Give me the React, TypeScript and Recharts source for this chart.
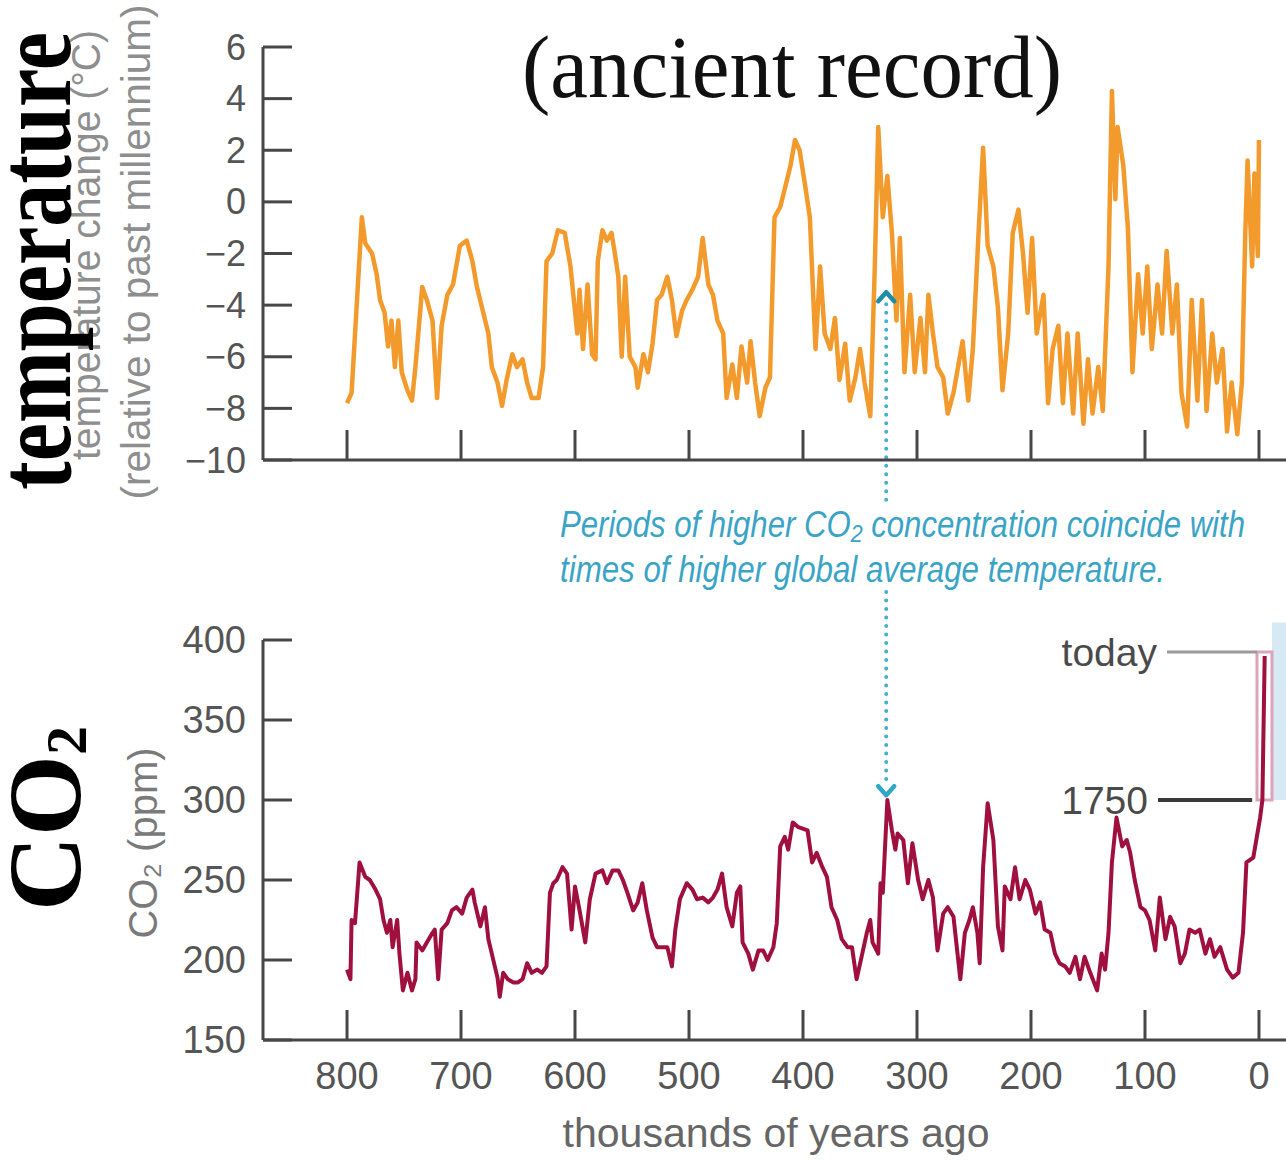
import React from 'react';
import { LineChart, Line, XAxis, YAxis, ReferenceLine, ReferenceArea } from 'recharts';

// ---------- data ----------
const AGE_TICKS = [800, 700, 600, 500, 400, 300, 200, 100, 0];
const TEMP_TICKS = [6, 4, 2, 0, -2, -4, -6, -8, -10];
const CO2_TICKS = [400, 350, 300, 250, 200, 150];

// thousands of years ago
const TEMP_AGES = [
  800, 796, 787, 784, 778, 774, 771, 767, 764, 761,
  758, 755, 752, 747, 743, 740, 734, 730, 725, 721,
  717, 712, 707, 701, 695, 690, 686, 681, 676, 673,
  668, 664, 660, 655, 651, 646, 642, 638, 632, 628,
  625, 620, 615, 609, 604, 598, 596, 593, 589, 585,
  582, 580, 576, 572, 568, 565, 562, 559, 556, 552,
  547, 545, 540, 536, 532, 528, 524, 519, 515, 511,
  506, 502, 497, 492, 488, 483, 479, 475, 470, 467,
  462, 458, 454, 449, 446, 442, 438, 433, 429, 425,
  420, 416, 411, 407, 403, 398, 394, 389, 385, 381,
  376, 372, 368, 363, 359, 354, 350, 346, 341, 337,
  334, 330, 326, 322, 318, 315, 311, 306, 302, 297,
  293, 290, 286, 282, 277, 273, 268, 264, 260, 255,
  251, 246, 242, 238, 233, 229, 225, 220, 216, 211,
  207, 203, 199, 195, 189, 185, 181, 176, 172, 168,
  163, 159, 154, 150, 146, 141, 137, 132, 129, 126,
  124, 119, 115, 111, 106, 102, 98, 94, 89, 85,
  81, 76, 72, 68, 63, 59, 54, 50, 46, 41,
  37, 32, 28, 24, 19, 15, 12, 10, 6, 4,
  1, 0,
];
// temperature change (°C)
const TEMP_VALUES = [
  -7.8, -7.4, -0.6, -1.6, -2.0, -2.8, -3.8, -4.3, -5.6, -4.6,
  -6.4, -4.6, -6.6, -7.3, -7.7, -6.4, -3.3, -3.8, -4.6, -7.6,
  -4.8, -3.6, -3.2, -1.7, -1.5, -2.3, -3.3, -4.2, -5.1, -6.4,
  -7.0, -7.9, -6.9, -5.9, -6.4, -6.1, -7.0, -7.6, -7.6, -6.4,
  -2.3, -2.0, -1.1, -1.2, -2.5, -5.1, -3.4, -5.7, -3.2, -5.9,
  -6.1, -2.3, -1.1, -1.5, -1.2, -2.0, -2.9, -6.0, -2.9, -6.0,
  -6.4, -7.2, -5.9, -6.6, -5.5, -3.8, -3.6, -2.9, -3.8, -5.2,
  -4.2, -3.8, -3.4, -2.9, -1.4, -3.2, -3.6, -4.6, -5.1, -7.6,
  -6.3, -7.6, -5.6, -7.0, -5.4, -7.0, -8.3, -7.2, -6.8, -0.6,
  -0.2, 0.5, 1.4, 2.4, 2.0, 0.6, -0.6, -5.7, -2.5, -5.1,
  -5.7, -4.5, -6.9, -5.5, -7.7, -6.8, -5.7, -7.0, -8.3, -2.5,
  2.9, -0.6, 1.0, -1.2, -4.6, -1.4, -6.6, -3.6, -6.6, -4.5,
  -6.6, -3.6, -5.1, -6.4, -6.8, -8.2, -7.4, -6.4, -5.4, -7.7,
  -5.7, -1.2, 2.1, -1.7, -2.5, -4.1, -7.3, -5.1, -1.2, -0.3,
  -2.0, -4.3, -1.4, -5.1, -3.6, -7.8, -5.7, -4.8, -7.8, -5.1,
  -8.2, -5.1, -8.6, -6.1, -8.2, -6.4, -8.1, -2.5, 4.3, 0.1,
  2.9, 1.4, -1.0, -6.6, -2.8, -5.1, -2.5, -5.7, -3.2, -5.1,
  -1.9, -5.1, -3.2, -7.4, -8.7, -3.8, -7.7, -3.8, -8.1, -5.1,
  -7.0, -5.7, -8.9, -7.0, -9.0, -7.0, -1.2, 1.6, -2.5, 1.1,
  -2.1, 2.4,
];

// thousands of years ago
const CO2_AGES = [
  800, 797, 796, 793, 789, 784, 780, 775, 771, 768,
  765, 762, 760, 756, 754, 751, 747, 743, 740, 739,
  734, 730, 725, 723, 720, 717, 712, 708, 704, 699,
  695, 690, 688, 683, 679, 676, 673, 668, 666, 663,
  659, 654, 650, 646, 642, 638, 633, 629, 625, 622,
  619, 616, 611, 607, 603, 600, 596, 591, 587, 582,
  576, 572, 567, 562, 558, 554, 549, 545, 541, 537,
  532, 528, 524, 519, 515, 512, 508, 502, 497, 493,
  488, 483, 479, 475, 471, 467, 462, 458, 455, 453,
  448, 444, 439, 435, 431, 426, 423, 420, 416, 413,
  409, 404, 396, 392, 388, 383, 379, 375, 370, 366,
  361, 357, 353, 348, 344, 341, 339, 334, 332, 330,
  326, 322, 319, 317, 312, 308, 304, 299, 295, 290,
  286, 282, 277, 273, 268, 262, 258, 254, 251, 247,
  245, 242, 238, 233, 229, 225, 223, 218, 214, 210,
  205, 201, 196, 192, 188, 183, 179, 175, 170, 166,
  161, 157, 153, 148, 142, 138, 135, 132, 129, 125,
  120, 116, 113, 109, 104, 100, 96, 91, 87, 82,
  78, 74, 69, 65, 61, 56, 52, 47, 43, 39,
  34, 28, 23, 18, 14, 11, 5, -1, -3, -5,
];
// CO2 (ppm)
const CO2_VALUES = [
  194, 188, 225, 223, 261, 252, 250, 244, 238, 225,
  217, 225, 208, 225, 204, 181, 192, 181, 188, 211,
  206, 211, 217, 219, 188, 219, 223, 231, 233, 229,
  239, 244, 236, 221, 233, 213, 204, 189, 177, 192,
  188, 186, 186, 188, 198, 192, 194, 192, 196, 242,
  248, 250, 258, 254, 219, 246, 231, 211, 238, 254,
  256, 248, 256, 256, 250, 242, 231, 236, 248, 231,
  214, 208, 208, 208, 196, 219, 238, 248, 244, 238,
  239, 236, 239, 244, 254, 233, 221, 242, 246, 211,
  204, 194, 206, 206, 200, 208, 223, 271, 277, 269,
  286, 283, 281, 261, 267, 258, 252, 233, 225, 213,
  208, 208, 188, 204, 217, 225, 211, 204, 248, 242,
  300, 281, 269, 279, 275, 248, 273, 250, 238, 250,
  239, 206, 229, 233, 227, 188, 217, 225, 233, 217,
  198, 258, 298, 275, 221, 206, 246, 238, 258, 238,
  250, 244, 229, 236, 219, 217, 204, 198, 196, 192,
  202, 188, 202, 192, 181, 204, 194, 217, 261, 289,
  271, 275, 267, 250, 233, 231, 225, 206, 239, 213,
  227, 221, 198, 204, 219, 217, 219, 204, 213, 202,
  208, 194, 189, 192, 217, 261, 264, 289, 300, 390,
];

// annotation anchors (data units)
const ARROW_AGE = 327;
const ARROW_TEMP = [-3.5, -11.6];
const ARROW_CO2 = [430, 303];
const TODAY_CO2 = 392.5;
const PREIND_CO2 = 300;
const TODAY_LINE_AGES = [80.7, 1.75];
const PREIND_LINE_AGES = [88.6, 6];
const BOX_AGES = [1.75, -11.4];
const PANEL_AGES = [-11.4, -23.7];
const PANEL_CO2 = [300, 411];

const AGE_DOMAIN: [number, number] = [-23.7, 873.7];

const tempData = TEMP_AGES.map((age, i) => ({ age, temp: TEMP_VALUES[i] }));
const co2Data = CO2_AGES.map((age, i) => ({ age, co2: CO2_VALUES[i] }));

// ---------- styling ----------
const W = 1286;
const H = 1160;
const SANS = '"Liberation Sans", Arial, Helvetica, sans-serif';
const SERIF = '"Liberation Serif", "Times New Roman", Times, serif';
const AXIS = '#474747';
const LABEL = '#555555';
const ORANGE = '#F39A2C';
const CRIMSON = '#A0103F';
const CYAN = '#45AFD0';
const TEAL = '#1F8CA8';

const fmt = (v: number) => (v < 0 ? '\u2212' + Math.abs(v) : String(v));

const makeYTick = (fontSize: number) => (props: any) => {
  const { x, y, payload } = props;
  return (
    <g>
      <line x1={x} y1={y} x2={x + 29} y2={y} stroke={AXIS} strokeWidth={3} />
      <text
        x={x - 17}
        y={y}
        textAnchor="end"
        dominantBaseline="central"
        fontFamily={SANS}
        fontSize={fontSize}
        fill={LABEL}
      >
        {fmt(payload.value)}
      </text>
    </g>
  );
};

const TopXTick = (props: any) => {
  const { x, y } = props;
  return <line x1={x} y1={y} x2={x} y2={y - 30} stroke={AXIS} strokeWidth={3} />;
};

const BottomXTick = (props: any) => {
  const { x, y, payload } = props;
  return (
    <g>
      <line x1={x} y1={y} x2={x} y2={y - 30} stroke={AXIS} strokeWidth={3} />
      <text
        x={x}
        y={y + 36}
        textAnchor="middle"
        dominantBaseline="central"
        fontFamily={SANS}
        fontSize={38}
        fill={LABEL}
      >
        {payload.value}
      </text>
    </g>
  );
};

const makeArrow = (dir: 'up' | 'down', headColor: string) => (p: any) => {
  const x = p.x1;
  const top = Math.min(p.y1, p.y2);
  const bottom = Math.max(p.y1, p.y2);
  const tip = dir === 'up' ? top : bottom;
  const s = dir === 'up' ? 1 : -1;
  const lineStart = dir === 'up' ? top + 12 : top;
  const lineEnd = dir === 'up' ? bottom : bottom - 12;
  return (
    <g>
      <line
        x1={x}
        y1={lineStart}
        x2={x}
        y2={lineEnd}
        stroke={CYAN}
        strokeWidth={4}
        strokeDasharray="0 8.5"
        strokeLinecap="round"
      />
      <path
        d={`M${x - 8},${tip + s * 9} L${x},${tip} L${x + 8},${tip + s * 9}`}
        fill="none"
        stroke={headColor}
        strokeWidth={4.5}
        strokeLinecap="round"
        strokeLinejoin="round"
      />
    </g>
  );
};

const makeLabeledLine = (label: string, color: string, width: number) => (p: any) => {
  const left = Math.min(p.x1, p.x2);
  const right = Math.max(p.x1, p.x2);
  return (
    <g>
      <line x1={left} y1={p.y1} x2={right} y2={p.y2} stroke={color} strokeWidth={width} />
      <text
        x={left - 10}
        y={p.y1}
        textAnchor="end"
        dominantBaseline="central"
        fontFamily={SANS}
        fontSize={39}
        fill="#4a4a4a"
      >
        {label}
      </text>
    </g>
  );
};

const upArrow = makeArrow('up', TEAL);
const downArrow = makeArrow('down', '#2FA8C8');
const todayLine = makeLabeledLine('today', '#9a9a9a', 3);
const preindLine = makeLabeledLine('1750', '#3a3a3a', 4);

export default function App() {
  return (
    <div
      style={{
        position: 'absolute',
        left: 0,
        top: 0,
        width: W,
        height: H,
        background: '#ffffff',
        overflow: 'hidden',
      }}
    >
      {/* temperature chart */}
      <div style={{ position: 'absolute', left: 0, top: 0 }}>
        <LineChart
          width={W}
          height={H}
          data={tempData}
          margin={{ top: 47, right: 0, bottom: H - 460 - 40, left: 0 }}
        >
          <XAxis
            dataKey="age"
            type="number"
            domain={AGE_DOMAIN}
            reversed
            allowDataOverflow
            ticks={AGE_TICKS}
            interval={0}
            height={40}
            tickSize={0}
            tickMargin={0}
            tickLine={false}
            tick={TopXTick}
            axisLine={{ stroke: AXIS, strokeWidth: 3 }}
          />
          <YAxis
            type="number"
            domain={[-10, 6]}
            allowDataOverflow
            ticks={TEMP_TICKS}
            interval={0}
            width={263}
            tickSize={0}
            tickMargin={0}
            tickLine={false}
            tick={makeYTick(36)}
            axisLine={{ stroke: AXIS, strokeWidth: 3 }}
          />
          <Line
            dataKey="temp"
            type="linear"
            stroke={ORANGE}
            strokeWidth={4.5}
            strokeLinejoin="round"
            dot={false}
            activeDot={false}
            isAnimationActive={false}
          />
          <ReferenceLine
            segment={[
              { x: ARROW_AGE, y: ARROW_TEMP[0] },
              { x: ARROW_AGE, y: ARROW_TEMP[1] },
            ]}
            ifOverflow="visible"
            shape={upArrow}
          />
        </LineChart>
      </div>

      {/* CO2 chart */}
      <div style={{ position: 'absolute', left: 0, top: 0 }}>
        <LineChart
          width={W}
          height={H}
          data={co2Data}
          margin={{ top: 640, right: 0, bottom: 0, left: 0 }}
        >
          <XAxis
            dataKey="age"
            type="number"
            domain={AGE_DOMAIN}
            reversed
            allowDataOverflow
            ticks={AGE_TICKS}
            interval={0}
            height={120}
            tickSize={0}
            tickMargin={0}
            tickLine={false}
            tick={BottomXTick}
            axisLine={{ stroke: AXIS, strokeWidth: 3 }}
          />
          <YAxis
            type="number"
            domain={[150, 400]}
            allowDataOverflow
            ticks={CO2_TICKS}
            interval={0}
            width={263}
            tickSize={0}
            tickMargin={0}
            tickLine={false}
            tick={makeYTick(38)}
            axisLine={{ stroke: AXIS, strokeWidth: 3 }}
          />
          <ReferenceArea
            x1={PANEL_AGES[0]}
            x2={PANEL_AGES[1]}
            y1={PANEL_CO2[0]}
            y2={PANEL_CO2[1]}
            ifOverflow="visible"
            fill="#D7E9F4"
            fillOpacity={1}
            stroke="none"
          />
          <ReferenceArea
            x1={BOX_AGES[0]}
            x2={BOX_AGES[1]}
            y1={PREIND_CO2}
            y2={TODAY_CO2}
            ifOverflow="visible"
            fill="none"
            stroke="#DDA3B8"
            strokeWidth={3}
          />
          <ReferenceLine
            segment={[
              { x: TODAY_LINE_AGES[0], y: TODAY_CO2 },
              { x: TODAY_LINE_AGES[1], y: TODAY_CO2 },
            ]}
            ifOverflow="visible"
            shape={todayLine}
          />
          <ReferenceLine
            segment={[
              { x: PREIND_LINE_AGES[0], y: PREIND_CO2 },
              { x: PREIND_LINE_AGES[1], y: PREIND_CO2 },
            ]}
            ifOverflow="visible"
            shape={preindLine}
          />
          <ReferenceLine
            segment={[
              { x: ARROW_AGE, y: ARROW_CO2[0] },
              { x: ARROW_AGE, y: ARROW_CO2[1] },
            ]}
            ifOverflow="visible"
            shape={downArrow}
          />
          <Line
            dataKey="co2"
            type="linear"
            stroke={CRIMSON}
            strokeWidth={4}
            strokeLinejoin="round"
            dot={false}
            activeDot={false}
            isAnimationActive={false}
          />
        </LineChart>
      </div>

      {/* titles and annotation text */}
      <svg
        width={W}
        height={H}
        style={{ position: 'absolute', left: 0, top: 0, pointerEvents: 'none' }}
      >
        <text
          x={522}
          y={97}
          fontFamily={SERIF}
          fontSize={88}
          textLength={540}
          lengthAdjust="spacingAndGlyphs"
          fill="#111"
        >
          (ancient record)
        </text>
        <text
          transform="translate(100,245) rotate(-90)"
          textAnchor="middle"
          fontFamily={SANS}
          fontSize={40}
          fill="#8e8e8e"
          textLength={430}
          lengthAdjust="spacingAndGlyphs"
        >
          temperature change (°C)
        </text>
        <text
          transform="translate(150,252) rotate(-90)"
          textAnchor="middle"
          fontFamily={SANS}
          fontSize={40}
          fill="#8e8e8e"
          textLength={495}
          lengthAdjust="spacingAndGlyphs"
        >
          (relative to past millennium)
        </text>
        <text
          transform="translate(70,490) rotate(-90)"
          fontFamily={SERIF}
          fontWeight="bold"
          fontSize={105}
          textLength={458}
          lengthAdjust="spacingAndGlyphs"
          fill="#000"
        >
          temperature
        </text>
        <text
          transform="translate(80,911) rotate(-90)"
          fontFamily={SERIF}
          fontWeight="bold"
          fontSize={104}
          fill="#000"
        >
          CO<tspan fontSize={58} dy={6}>2</tspan>
        </text>
        <text
          transform="translate(157,843) rotate(-90)"
          textAnchor="middle"
          fontFamily={SANS}
          fontSize={40}
          fill="#7a7a7a"
        >
          CO₂ (ppm)
        </text>
        <text
          x={776}
          y={1147}
          textAnchor="middle"
          fontFamily={SANS}
          fontSize={40}
          fill="#666"
          textLength={427}
          lengthAdjust="spacingAndGlyphs"
        >
          thousands of years ago
        </text>
        <text
          x={560}
          y={537}
          fontFamily={SANS}
          fontStyle="italic"
          fontSize={37}
          fill="#3AA4C6"
          textLength={685}
          lengthAdjust="spacingAndGlyphs"
        >
          Periods of higher CO₂ concentration coincide with
        </text>
        <text
          x={560}
          y={582}
          fontFamily={SANS}
          fontStyle="italic"
          fontSize={37}
          fill="#3AA4C6"
          textLength={605}
          lengthAdjust="spacingAndGlyphs"
        >
          times of higher global average temperature.
        </text>
      </svg>
    </div>
  );
}
